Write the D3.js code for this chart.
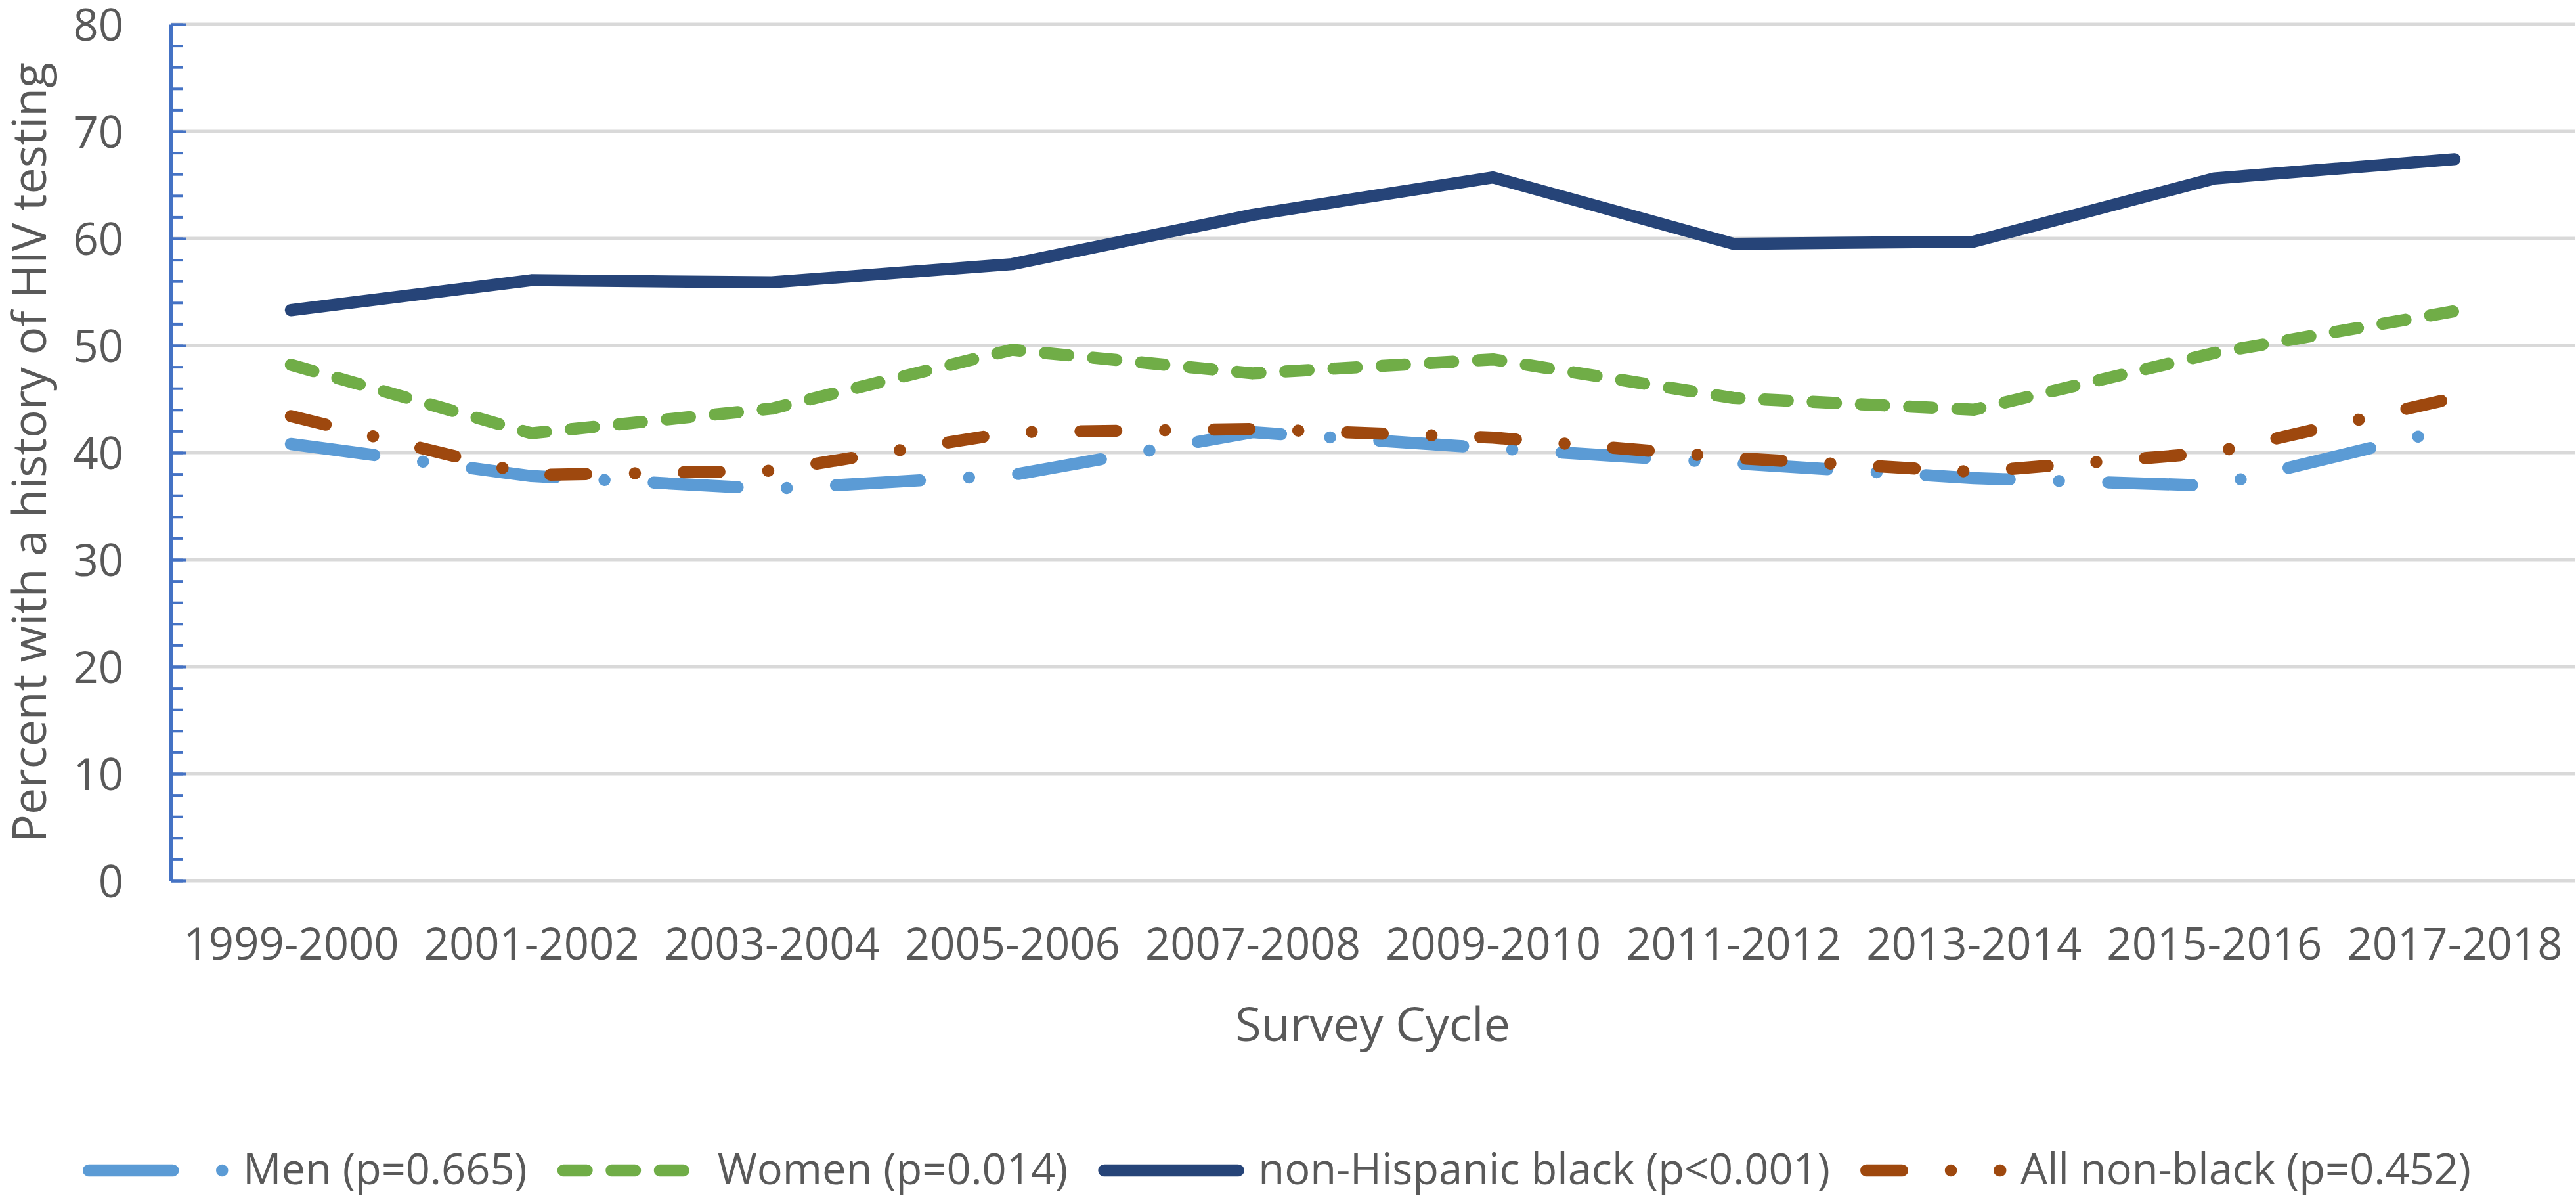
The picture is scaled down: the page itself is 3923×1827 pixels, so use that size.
<!DOCTYPE html>
<html>
<head>
<meta charset="utf-8">
<script src="https://cdn.jsdelivr.net/npm/d3@7"></script>
<style>
  body { margin: 0; background: #fff; }
  text { font-family: "Open Sans", sans-serif; fill: #595959; }
</style>
</head>
<body>
<div id="chart"></div>
<script>
// survey cycles (x categories)
var cycles = ["1999-2000", "2001-2002", "2003-2004", "2005-2006", "2007-2008",
              "2009-2010", "2011-2012", "2013-2014", "2015-2016", "2017-2018"];

// percent with a history of HIV testing
var men      = [40.8, 37.8, 36.6, 37.9, 41.9, 40.4, 39.0, 37.6, 36.9, 42.3];
var women    = [48.2, 41.8, 44.1, 49.6, 47.4, 48.7, 45.1, 44.0, 49.3, 53.2];
var nhBlack  = [53.3, 56.1, 55.9, 57.6, 62.2, 65.7, 59.5, 59.7, 65.6, 67.4];
var nonBlack = [43.4, 37.9, 38.3, 41.9, 42.2, 41.4, 39.5, 38.2, 40.0, 45.1];

var seriesNames = ["Men (p=0.665)", "Women (p=0.014)", "non-Hispanic black (p<0.001)", "All non-black (p=0.452)"];
var yTicks = [0, 10, 20, 30, 40, 50, 60, 70, 80];

var width = 3923, height = 1827;
var plot = { left: 260, right: 3921, top: 37, bottom: 1341 };
var lw = 18.5;

// line styles (stroke, dash pattern) for each series
var styles = [
  { color: "#5B9BD5", dash: "128,75,0.001,75" },
  { color: "#70AD47", dash: "35.5,38" },
  { color: "#264478", dash: null },
  { color: "#9E480E", dash: "54.5,74.25,0.001,74.25" }
];
var values = [men, women, nhBlack, nonBlack];

var svg = d3.select("#chart").append("svg")
    .attr("width", width)
    .attr("height", height);

var x = d3.scalePoint()
    .domain(cycles)
    .range([plot.left, plot.right])
    .padding(0.5);

var y = d3.scaleLinear()
    .domain([0, 80])
    .range([plot.bottom, plot.top]);

// gridlines
svg.append("g").selectAll("line")
    .data(yTicks)
    .enter().append("line")
    .attr("x1", plot.left)
    .attr("x2", plot.right)
    .attr("y1", function(d) { return y(d); })
    .attr("y2", function(d) { return y(d); })
    .style("stroke", "#D9D9D9")
    .style("stroke-width", 5);

// y axis: minor + major ticks pointing inside, labels on the left
var minor = svg.append("g")
    .attr("transform", "translate(" + plot.left + ",0)")
    .call(d3.axisRight(y).tickValues(d3.range(0, 81, 2)).tickSize(18).tickSizeOuter(0).tickFormat(""));
minor.selectAll("line").style("stroke", "#4472C4").style("stroke-width", 4);
minor.select(".domain").style("stroke", "#4472C4").style("stroke-width", 5);

var major = svg.append("g")
    .attr("transform", "translate(" + plot.left + ",0)")
    .call(d3.axisRight(y).tickValues(yTicks).tickSize(24).tickSizeOuter(0).tickFormat(""));
major.select(".domain").remove();
major.selectAll("line").style("stroke", "#4472C4").style("stroke-width", 4);

var yLab = svg.append("g")
    .attr("transform", "translate(" + plot.left + ",0)")
    .call(d3.axisLeft(y).tickValues(yTicks).tickSize(0).tickPadding(72));
yLab.select(".domain").remove();
yLab.selectAll("text")
    .attr("dy", 24)
    .style("font-family", "'Open Sans', sans-serif")
    .style("font-size", "67px")
    .style("fill", "#595959");

// x axis labels
var xAx = svg.append("g")
    .attr("transform", "translate(0," + plot.bottom + ")")
    .call(d3.axisBottom(x).tickSize(0));
xAx.select(".domain").remove();
xAx.selectAll("text")
    .attr("y", 120)
    .attr("dy", 0)
    .style("font-family", "'Open Sans', sans-serif")
    .style("font-size", "67px")
    .style("fill", "#595959");

// axis titles
svg.append("text")
    .attr("transform", "translate(70," + ((plot.top + plot.bottom) / 2) + ") rotate(-90)")
    .attr("text-anchor", "middle")
    .style("font-size", "71.5px")
    .text("Percent with a history of HIV testing");

svg.append("text")
    .attr("x", (plot.left + plot.right) / 2)
    .attr("y", 1585)
    .attr("text-anchor", "middle")
    .style("font-size", "72px")
    .text("Survey Cycle");

// series lines
var line = d3.line()
    .x(function(d, i) { return x(cycles[i]); })
    .y(function(d) { return y(d); });

svg.append("g").selectAll("path")
    .data(values)
    .enter().append("path")
    .attr("d", line)
    .style("fill", "none")
    .style("stroke", function(d, i) { return styles[i].color; })
    .style("stroke-width", lw)
    .style("stroke-linecap", "round")
    .style("stroke-linejoin", "round")
    .style("stroke-dasharray", function(d, i) { return styles[i].dash; });

// legend
var legend = svg.append("g");
var lx = 126, ly = 1782;
seriesNames.forEach(function(name, i) {
    legend.append("line")
        .attr("x1", lx + lw / 2)
        .attr("x2", lx + lw / 2 + 204)
        .attr("y1", ly)
        .attr("y2", ly)
        .style("stroke", styles[i].color)
        .style("stroke-width", lw)
        .style("stroke-linecap", "round")
        .style("stroke-dasharray", styles[i].dash);
    var t = legend.append("text")
        .attr("x", lx + 244)
        .attr("y", ly + 21)
        .style("font-size", "65px")
        .text(name);
    lx = lx + 244 + t.node().getComputedTextLength() + 46;
});
</script>
</body>
</html>
